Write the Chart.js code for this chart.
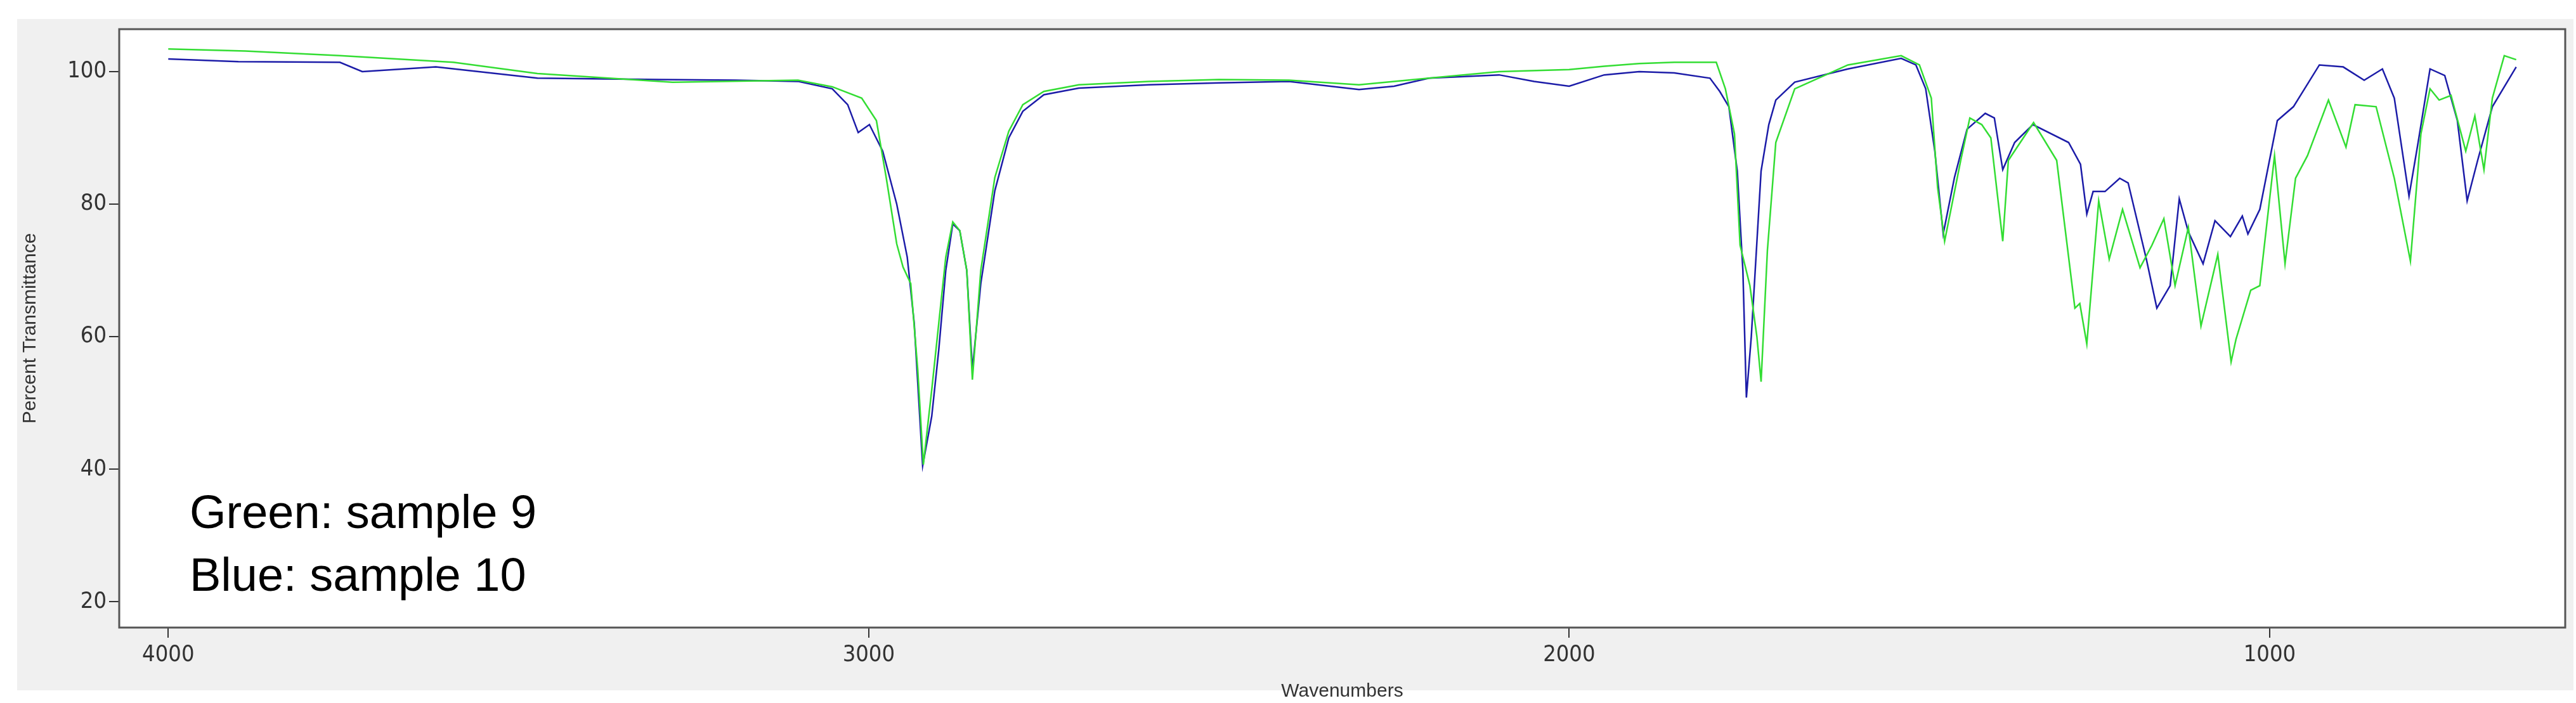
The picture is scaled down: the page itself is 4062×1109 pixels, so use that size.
<!DOCTYPE html>
<html>
<head>
<meta charset="utf-8">
<script src="https://cdn.jsdelivr.net/npm/chart.js@4"></script>
<style>
  html, body { margin: 0; padding: 0; background: #ffffff; }
  #wrap { width: 4062px; height: 1109px; }
</style>
</head>
<body>
<div id="wrap"><canvas id="irChart" width="4062" height="1109"></canvas></div>
<script>
// Wavenumbers (cm-1) and percent transmittance
const blueWave = [4000, 3900, 3755, 3723, 3618, 3473, 3300, 3190, 3100, 3052, 3030, 3015, 2999, 2980, 2960, 2945, 2935, 2923, 2910, 2900, 2890, 2880, 2870, 2860, 2852, 2840, 2820, 2800, 2780, 2750, 2700, 2600, 2500, 2400, 2300, 2250, 2200, 2100, 2050, 2000, 1950, 1900, 1850, 1799, 1785, 1772, 1760, 1752, 1747, 1740, 1726, 1715, 1705, 1678, 1602, 1526, 1505, 1491, 1478, 1466, 1450, 1432, 1406, 1393, 1381, 1364, 1338, 1287, 1270, 1261, 1252, 1235, 1214, 1202, 1176, 1161, 1142, 1129, 1116, 1095, 1078, 1056, 1039, 1031, 1014, 989, 966, 929, 895, 865, 839, 822, 801, 788, 771, 750, 732, 718, 703, 682, 648];
const blueTrans = [101.9, 101.5, 101.4, 100, 100.7, 99, 98.8, 98.7, 98.5, 97.4, 95, 90.8, 92, 88, 80, 72, 62, 40.5, 48, 58, 70, 77, 76, 70, 55, 68, 82, 90, 94, 96.5, 97.5, 98, 98.3, 98.5, 97.3, 97.8, 99, 99.5, 98.5, 97.8, 99.5, 100, 99.8, 99, 97, 94.7, 85, 70, 50.8, 60, 85, 92, 95.7, 98.4, 100.4, 102, 101, 97.4, 88, 75.5, 84, 91.3, 93.7, 93, 85.2, 89.3, 92, 89.3, 86, 78.5, 81.9, 81.9, 83.9, 83.2, 71.7, 64.3, 67.7, 80.8, 75.8, 71, 77.5, 75.1, 78.2, 75.5, 79.2, 92.6, 94.7, 101, 100.7, 98.7, 100.4, 96, 81.2, 89.3, 100.4, 99.4, 92.6, 80.5, 86.6, 94.7, 100.7];

const greenWave = [4000, 3890, 3755, 3593, 3473, 3280, 3101, 3052, 3010, 2989, 2975, 2960, 2951, 2940, 2930, 2922, 2910, 2900, 2890, 2880, 2870, 2860, 2852, 2840, 2820, 2800, 2780, 2750, 2700, 2600, 2500, 2400, 2300, 2200, 2100, 2000, 1950, 1900, 1850, 1790, 1777, 1764, 1756, 1742, 1732, 1726, 1717, 1705, 1678, 1602, 1526, 1500, 1483, 1474, 1464, 1441, 1428, 1411, 1398, 1381, 1373, 1356, 1337, 1304, 1278, 1271, 1261, 1244, 1229, 1210, 1185, 1168, 1151, 1135, 1116, 1098, 1074, 1055, 1048, 1027, 1014, 993, 978, 963, 946, 916, 891, 878, 848, 822, 799, 784, 771, 758, 741, 720, 707, 694, 682, 665, 648];
const greenTrans = [103.4, 103.1, 102.4, 101.4, 99.7, 98.4, 98.7, 97.7, 96, 92.6, 84, 74, 70.5, 68, 55, 40.7, 52, 62, 72, 77.3, 76, 70, 53.5, 70, 84, 91, 95, 97, 98, 98.5, 98.8, 98.7, 98, 99, 100, 100.3, 100.8, 101.2, 101.4, 101.4, 97.4, 90.6, 73.8, 67.7, 60, 53.2, 73, 89.3, 97.4, 101, 102.4, 101, 96, 82.5, 74.4, 86.6, 93, 92, 90, 74.4, 86.6, 89.3, 92.3, 86.6, 64.3, 65, 58.9, 80.5, 71.7, 79.2, 70.4, 73.8, 77.8, 67.7, 76.5, 61.6, 72.4, 56.2, 59.6, 67, 67.7, 87.3, 71, 83.9, 87.3, 95.7, 88.6, 95, 94.7, 83.9, 71.4, 90.6, 97.4, 95.7, 96.4, 88, 93.3, 85.2, 96, 102.4, 101.8];

const xTicks = [4000, 3000, 2000, 1000];
const yTicks = [20, 40, 60, 80, 100];

function toPoints(xs, ys) {
    return xs.map((x, i) => ({ x: x, y: ys[i] }));
}

// Grey panel, white plot area, frame and the sample note
const framePlugin = {
    id: 'frame',
    beforeDraw(chart) {
        const c = chart.ctx;
        const a = chart.chartArea;
        c.save();
        c.fillStyle = '#ffffff';
        c.fillRect(0, 0, chart.width, chart.height);
        c.fillStyle = '#f0f0f0';
        c.fillRect(27, 30, 4031, 1059);
        c.fillStyle = '#ffffff';
        c.fillRect(a.left, a.top, a.right - a.left, a.bottom - a.top);
        c.restore();
    },
    afterDraw(chart) {
        const c = chart.ctx;
        const a = chart.chartArea;
        c.save();
        c.strokeStyle = '#555555';
        c.lineWidth = 3;
        c.strokeRect(a.left, a.top, a.right - a.left, a.bottom - a.top);
        c.fillStyle = '#000000';
        c.font = '74px "Liberation Sans", Arial, sans-serif';
        c.textBaseline = 'middle';
        c.fillText('Green: sample 9', 299, 813);
        c.fillText('Blue: sample 10', 299, 912);
        c.restore();
    }
};

new Chart(document.getElementById('irChart'), {
    type: 'line',
    data: {
        datasets: [
            {
                label: 'Green: sample 9',
                data: toPoints(greenWave, greenTrans),
                borderColor: '#33dd33',
                borderWidth: 2.5,
                pointRadius: 0,
                tension: 0
            },
            {
                label: 'Blue: sample 10',
                data: toPoints(blueWave, blueTrans),
                borderColor: '#1c1ca8',
                borderWidth: 2.5,
                pointRadius: 0,
                tension: 0
            }
        ]
    },
    options: {
        responsive: false,
        animation: false,
        layout: { padding: { top: 46, right: 17, left: 0, bottom: 0 } },
        plugins: {
            legend: { display: false },
            tooltip: { enabled: false }
        },
        scales: {
            x: {
                type: 'linear',
                reverse: true,
                min: 578,
                max: 4070,
                afterBuildTicks: function (scale) {
                    scale.ticks = xTicks.map(v => ({ value: v }));
                },
                afterFit: function (scale) { scale.height = 119; },
                grid: { drawOnChartArea: false, tickLength: 16, color: '#333333', lineWidth: 2 },
                border: { display: false },
                ticks: {
                    color: '#333333',
                    padding: 6,
                    maxRotation: 0,
                    callback: function (value) { return String(value); },
                    font: { size: 36, family: "'DejaVu Sans Condensed', 'Liberation Sans Narrow', sans-serif" }
                },
                title: {
                    display: true,
                    text: 'Wavenumbers',
                    color: '#333333',
                    padding: 0,
                    font: { size: 30, family: "'Liberation Sans', Arial, sans-serif" }
                }
            },
            y: {
                min: 16.1,
                max: 106.4,
                afterBuildTicks: function (scale) {
                    scale.ticks = yTicks.map(v => ({ value: v }));
                },
                afterFit: function (scale) { scale.width = 188; },
                grid: { drawOnChartArea: false, tickLength: 16, color: '#333333', lineWidth: 2 },
                border: { display: false },
                ticks: {
                    color: '#333333',
                    padding: 4,
                    callback: function (value) { return String(value); },
                    font: { size: 36, family: "'DejaVu Sans Condensed', 'Liberation Sans Narrow', sans-serif" }
                },
                title: {
                    display: true,
                    text: 'Percent Transmittance',
                    color: '#333333',
                    padding: { top: 30, bottom: 0 },
                    font: { size: 30, family: "'Liberation Sans', Arial, sans-serif" }
                }
            }
        }
    },
    plugins: [framePlugin]
});
</script>
</body>
</html>
